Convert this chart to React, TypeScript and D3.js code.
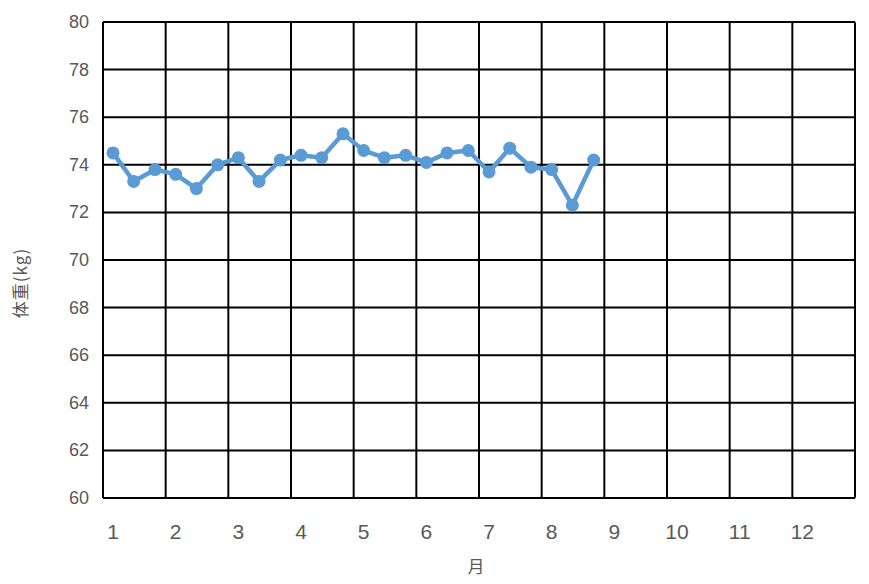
import { useEffect, useRef } from "react";
import * as d3 from "d3";

// 体重の推移（月あたり3回計測）
const months: number[] = [
  1, 1.33, 1.67, 2, 2.33, 2.67, 3, 3.33, 3.67, 4, 4.33, 4.67,
  5, 5.33, 5.67, 6, 6.33, 6.67, 7, 7.33, 7.67, 8, 8.33, 8.67,
];
const weights: number[] = [
  74.5, 73.3, 73.8, 73.6, 73.0, 74.0, 74.3, 73.3, 74.2, 74.4, 74.3, 75.3,
  74.6, 74.3, 74.4, 74.1, 74.5, 74.6, 73.7, 74.7, 73.9, 73.8, 72.3, 74.2,
];
const xTicks: number[] = [1, 2, 3, 4, 5, 6, 7, 8, 9, 10, 11, 12];
const yTicks: number[] = [60, 62, 64, 66, 68, 70, 72, 74, 76, 78, 80];

const W = 869;
const H = 584;

export default function App() {
  const svgRef = useRef<SVGSVGElement>(null);

  useEffect(() => {
    if (!svgRef.current) return;
    const svg = d3.select(svgRef.current);
    svg.selectAll("*").remove();

    const left = 103, right = 855, top = 22, bottom = 498;
    const x = d3.scaleLinear().domain([0.84, 12.84]).range([left, right]);
    const y = d3.scaleLinear().domain([60, 80]).range([bottom, top]);
    const font = "'Liberation Sans', Arial, sans-serif";
    const grey = "#595959";

    // グリッド
    const grid = svg.append("g").attr("stroke", "#000").attr("stroke-width", 2);
    grid.selectAll("line.h")
      .data(yTicks)
      .join("line")
      .attr("class", "h")
      .attr("x1", left)
      .attr("x2", right)
      .attr("y1", d => y(d))
      .attr("y2", d => y(d));
    grid.selectAll("line.v")
      .data(d3.range(0, 13).map(i => 0.84 + i))
      .join("line")
      .attr("class", "v")
      .attr("x1", d => x(d))
      .attr("x2", d => x(d))
      .attr("y1", top)
      .attr("y2", bottom);

    // 目盛ラベル
    svg.append("g")
      .selectAll("text")
      .data(yTicks)
      .join("text")
      .attr("x", 89)
      .attr("y", d => y(d))
      .attr("text-anchor", "end")
      .attr("dominant-baseline", "central")
      .style("font-family", font)
      .style("font-size", "18px")
      .style("fill", grey)
      .text(d => d);

    svg.append("g")
      .selectAll("text")
      .data(xTicks)
      .join("text")
      .attr("x", d => x(d))
      .attr("y", 531)
      .attr("text-anchor", "middle")
      .attr("dominant-baseline", "central")
      .style("font-family", font)
      .style("font-size", "21px")
      .style("fill", grey)
      .text(d => d);

    // 軸タイトル
    svg.append("text")
      .attr("transform", "translate(19,283) rotate(-90)")
      .attr("text-anchor", "middle")
      .attr("dominant-baseline", "central")
      .style("font-family", "'Noto Sans CJK JP', sans-serif")
      .style("font-size", "17px")
      .style("letter-spacing", "1px")
      .style("fill", grey)
      .text("体重(kg)");

    svg.append("text")
      .attr("x", 476)
      .attr("y", 565)
      .attr("text-anchor", "middle")
      .attr("dominant-baseline", "central")
      .style("font-family", "'Noto Sans CJK JP', sans-serif")
      .style("font-size", "17px")
      .style("fill", grey)
      .text("月");

    // 系列
    const pts = months.map((m, i) => ({ m, w: weights[i] }));
    const line = d3.line<{ m: number; w: number }>()
      .x(d => x(d.m))
      .y(d => y(d.w));

    svg.append("path")
      .datum(pts)
      .attr("d", line)
      .attr("fill", "none")
      .attr("stroke", "#5B9BD5")
      .attr("stroke-width", 4.5)
      .attr("stroke-linejoin", "round");

    svg.append("g")
      .selectAll("circle")
      .data(pts)
      .join("circle")
      .attr("cx", d => x(d.m))
      .attr("cy", d => y(d.w))
      .attr("r", 6.5)
      .attr("fill", "#5B9BD5");
  }, []);

  return (
    <>
      <style>{"body{margin:0;background:#fff}"}</style>
      <svg
        ref={svgRef}
        width={W}
        height={H}
        viewBox={`0 0 ${W} ${H}`}
        style={{ display: "block" }}
      />
    </>
  );
}
